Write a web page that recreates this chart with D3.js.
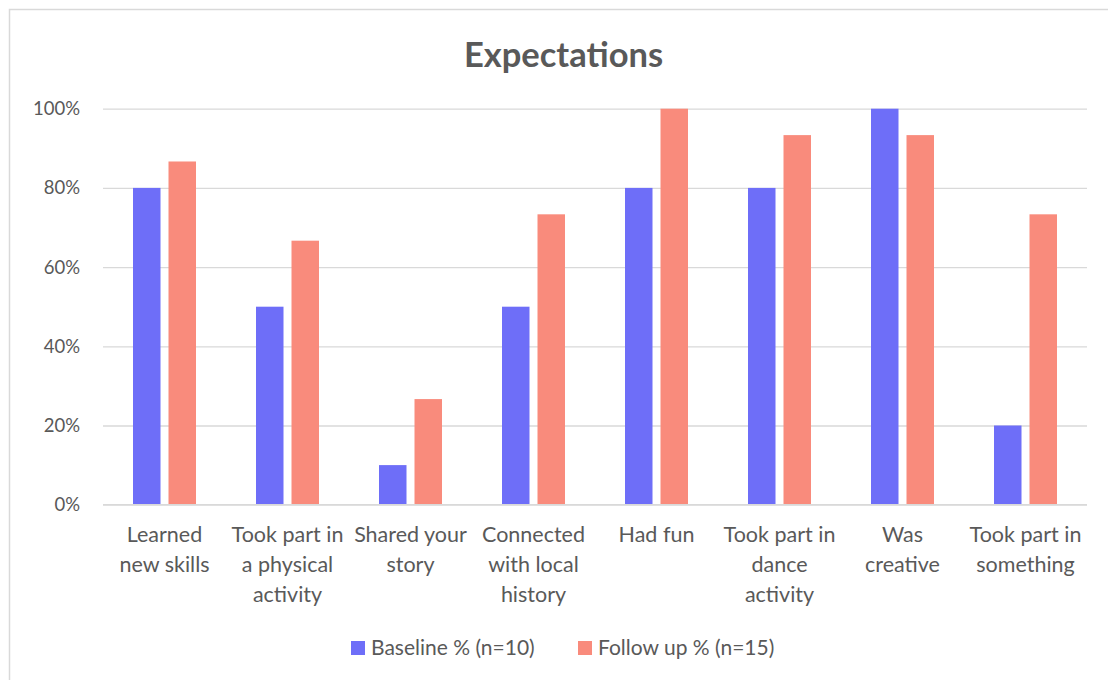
<!DOCTYPE html>
<html><head><meta charset="utf-8">
<script src="https://cdn.jsdelivr.net/npm/d3@7"></script>
<style>body{margin:0;background:#fff;} svg{display:block;font-family:Lato, "Open Sans", sans-serif;}</style>
</head><body>
<svg id="c" width="1108" height="680"></svg>
<script>
const categories = [
  ["Learned", "new skills"],
  ["Took part in", "a physical", "activity"],
  ["Shared your", "story"],
  ["Connected", "with local", "history"],
  ["Had fun"],
  ["Took part in", "dance", "activity"],
  ["Was", "creative"],
  ["Took part in", "something"]
];
const baseline = [80, 50, 10, 50, 80, 80, 100, 20];
const followUp = [86.67, 66.67, 26.67, 73.33, 100, 93.33, 93.33, 73.33];
const seriesNames = ["Baseline % (n=10)", "Follow up % (n=15)"];
const yTicks = [0, 20, 40, 60, 80, 100];
const colors = ["#6E6EF8", "#F98B7C"];

(function () {
const svg = d3.select("#c");
const textColor = "#595959";

svg.append("rect").attr("x", 9.5).attr("y", 9.5).attr("width", 1110).attr("height", 690)
  .attr("fill", "#fff").attr("stroke", "#d9d9d9").attr("stroke-width", 1.5);

const pL = 103, pR = 1087, pT = 108.7, pB = 504.7;
const x = d3.scaleBand().domain(d3.range(categories.length)).range([pL, pR]);
const y = d3.scaleLinear().domain([0, 100]).range([pB, pT]);
const barW = 27.5, gap = 8;

svg.append("text").attr("x", 563.5).attr("y", 66.5).attr("text-anchor", "middle")
  .attr("font-size", 34.5).attr("font-weight", 700).attr("fill", textColor).text("Expectations");

const gy = svg.append("g").attr("transform", `translate(${pL},0)`)
  .call(d3.axisLeft(y).tickValues(yTicks).tickSize(-(pR - pL)).tickFormat(d => d + "%"));
gy.select(".domain").remove();
gy.selectAll(".tick line").attr("stroke", "#d9d9d9").attr("stroke-width", 1.3);
gy.selectAll(".tick text").attr("x", -23).attr("font-size", 18.5).attr("fill", textColor)
  .attr("font-family", "Lato, sans-serif");

const series = [baseline, followUp];
series.forEach((vals, si) => {
  svg.append("g").selectAll("rect").data(vals).join("rect")
    .attr("x", (d, i) => x(i) + x.bandwidth() / 2 + (si === 0 ? -gap / 2 - barW : gap / 2))
    .attr("y", d => y(d))
    .attr("width", barW)
    .attr("height", d => pB - y(d))
    .attr("fill", colors[si]);
});

svg.append("line").attr("x1", pL).attr("x2", pR).attr("y1", pB).attr("y2", pB)
  .attr("stroke", "#d9d9d9").attr("stroke-width", 1.3);

const gx = svg.append("g");
categories.forEach((lines, i) => {
  const t = gx.append("text").attr("text-anchor", "middle").attr("font-size", 21.5).attr("fill", textColor);
  lines.forEach((l, j) => {
    t.append("tspan").attr("x", x(i) + x.bandwidth() / 2).attr("y", 542 + j * 30).text(l);
  });
});

const legendItems = [{x: 351, tx: 371}, {x: 578, tx: 598}];
seriesNames.forEach((n, i) => {
  svg.append("rect").attr("x", legendItems[i].x).attr("y", 641).attr("width", 14).attr("height", 14).attr("fill", colors[i]);
  svg.append("text").attr("x", legendItems[i].tx).attr("y", 655).attr("font-size", 21).attr("fill", textColor).text(n);
});
})();
</script>
</body></html>
